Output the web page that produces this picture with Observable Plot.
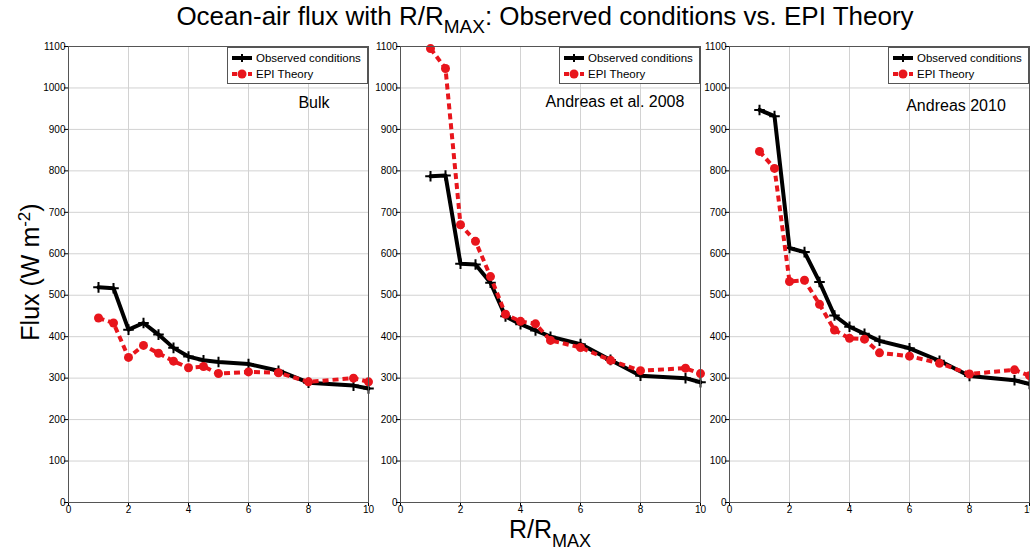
<!DOCTYPE html>
<html><head><meta charset="utf-8">
<script src="https://cdn.jsdelivr.net/npm/d3@7"></script>
<script src="https://cdn.jsdelivr.net/npm/@observablehq/plot@0.6"></script>
<style>
body{margin:0;background:#fff;}
#root{position:relative;width:1030px;height:554px;overflow:hidden;font-family:"Liberation Sans",Arial,sans-serif;color:#000;}
.abs{position:absolute;white-space:nowrap;}
.legend{position:absolute;width:139px;height:35px;border:1px solid #555;background:#fff;font-size:11.5px;}
.legend .row{position:absolute;left:3px;height:16px;display:flex;align-items:center;}
.legend svg{margin-right:3px;}
.ptitle{position:absolute;font-size:16px;transform:translate(-50%,-50%);white-space:nowrap;}
</style></head><body><div id="root"></div>
<script>
// ---- data ----
const rr = [1, 1.5, 2, 2.5, 3, 3.5, 4, 4.5, 5, 6, 7, 8, 9.5, 10];
const bulkObs = [519, 517, 417, 433, 405, 373, 352, 343, 339, 334, 318, 289, 282, 275];
const bulkEpi = [445, 433, 350, 379, 360, 341, 325, 328, 311, 315, 313, 291, 300, 291];
const a08Obs = [787, 789, 576, 574, 530, 449, 430, 415, 400, 382, 344, 306, 300, 290];
const a08Epi = [1095, 1047, 670, 630, 545, 454, 437, 431, 391, 374, 343, 318, 324, 311];
const a10Obs = [947, 932, 614, 604, 532, 451, 424, 407, 390, 372, 342, 305, 295, 286];
const a10Epi = [847, 806, 533, 536, 478, 416, 396, 394, 361, 353, 336, 310, 320, 306];
const panelNames = ["Bulk", "Andreas et al. 2008", "Andreas 2010"];
const seriesNames = ["Observed conditions", "EPI Theory"];
const xTicks = [0, 2, 4, 6, 8, 10];
const yTicks = [0, 100, 200, 300, 400, 500, 600, 700, 800, 900, 1000, 1100];
const titleText = "Ocean-air flux with R/R";
const titleSub = "MAX";
const titleRest = ": Observed conditions vs. EPI Theory";

// ---- layout ----
const obsSets = [bulkObs, a08Obs, a10Obs];
const epiSets = [bulkEpi, a08Epi, a10Epi];
const svgLeft = [38, 370, 699];
const svgTop = 36;
const mL = 30, mR = 2, mT = 10, mB = 22, plotW = 300, plotH = 456;
const RED = "#e8151c";
const GRID = {stroke: "#d2d2d2", strokeWidth: 1};
const root = document.getElementById("root");

const titleCenters = [[314, 103], [615, 102], [956, 106]];

panelNames.forEach((name, i) => {
  const obs = rr.map((x, j) => ({x, y: obsSets[i][j]}));
  const epi = rr.map((x, j) => ({x, y: epiSets[i][j]}));
  const chart = Plot.plot({
    width: mL + plotW + mR,
    height: mT + plotH + mB,
    marginLeft: mL, marginRight: mR, marginTop: mT, marginBottom: mB,
    style: {fontFamily: "'Liberation Sans Narrow','Arial Narrow','Liberation Sans',sans-serif", fontSize: "10px", background: "transparent", overflow: "visible", color: "#000"},
    x: {domain: [0, 10]},
    y: {domain: [0, 1100]},
    marks: [
      Plot.ruleX(xTicks, GRID),
      Plot.ruleY(yTicks, GRID),
      Plot.axisX({ticks: xTicks, anchor: "bottom", tickSize: 4, tickPadding: -1, label: null, tickFormat: d => String(d)}),
      Plot.axisY({ticks: yTicks, anchor: "left", tickSize: 4, tickPadding: -1, label: null, tickFormat: d => String(d)}),
      Plot.line(obs, {x: "x", y: "y", stroke: "#000", strokeWidth: 4}),
      Plot.dot(obs, {x: "x", y: "y", symbol: "plus", r: 3.5, stroke: "#000", strokeWidth: 2}),
      Plot.line(epi, {x: "x", y: "y", stroke: RED, strokeWidth: 4, strokeDasharray: "6,4", strokeLinecap: "butt", strokeLinejoin: "miter"}),
      Plot.dot(epi, {x: "x", y: "y", r: 4.5, fill: RED}),
      Plot.frame({stroke: "#555", strokeWidth: 1})
    ]
  });
  chart.style.position = "absolute";
  chart.style.left = svgLeft[i] + "px";
  chart.style.top = svgTop + "px";
  root.appendChild(chart);

  // legend
  const frameRight = svgLeft[i] + mL + plotW;
  const lg = document.createElement("div");
  lg.className = "legend";
  lg.style.left = (frameRight - 141) + "px";
  lg.style.top = (svgTop + mT + 1) + "px";
  lg.innerHTML =
    `<div class="row" style="top:2px"><svg width="22" height="10"><line x1="1" y1="5" x2="21" y2="5" stroke="#000" stroke-width="4"/><path d="M11,1V9M7,5H15" stroke="#000" stroke-width="2"/></svg>${seriesNames[0]}</div>` +
    `<div class="row" style="top:18px"><svg width="22" height="10"><line x1="1" y1="5" x2="21" y2="5" stroke="${RED}" stroke-width="4" stroke-dasharray="5,3"/><circle cx="11" cy="5" r="4.5" fill="${RED}"/></svg>${seriesNames[1]}</div>`;
  root.appendChild(lg);

  const pt = document.createElement("div");
  pt.className = "ptitle";
  pt.style.left = titleCenters[i][0] + "px";
  pt.style.top = titleCenters[i][1] + "px";
  pt.textContent = name;
  root.appendChild(pt);
});

// main title
const t = document.createElement("div");
t.className = "abs";
t.style.cssText = "left:0;width:1090px;top:1px;text-align:center;font-size:26px;font-family:'Liberation Sans Narrow','Arial Narrow','Liberation Sans',sans-serif;";
t.innerHTML = `${titleText}<sub style="font-size:19px;vertical-align:-8px">${titleSub}</sub>${titleRest}`;
root.appendChild(t);

// y label
const yl = document.createElement("div");
yl.className = "abs";
yl.style.cssText = "left:30px;top:272px;transform:translate(-50%,-50%) rotate(-90deg);font-size:25px;";
yl.innerHTML = `Flux (W m<sup style="font-size:17px;vertical-align:9px">-2</sup>)`;
root.appendChild(yl);

// x label
const xl = document.createElement("div");
xl.className = "abs";
xl.style.cssText = "left:550px;top:533px;transform:translate(-50%,-50%);font-size:25px;font-family:'Liberation Sans Narrow','Arial Narrow','Liberation Sans',sans-serif;";
xl.innerHTML = `R/R<sub style="font-size:18px;vertical-align:-9px">MAX</sub>`;
root.appendChild(xl);
</script>
</body></html>
